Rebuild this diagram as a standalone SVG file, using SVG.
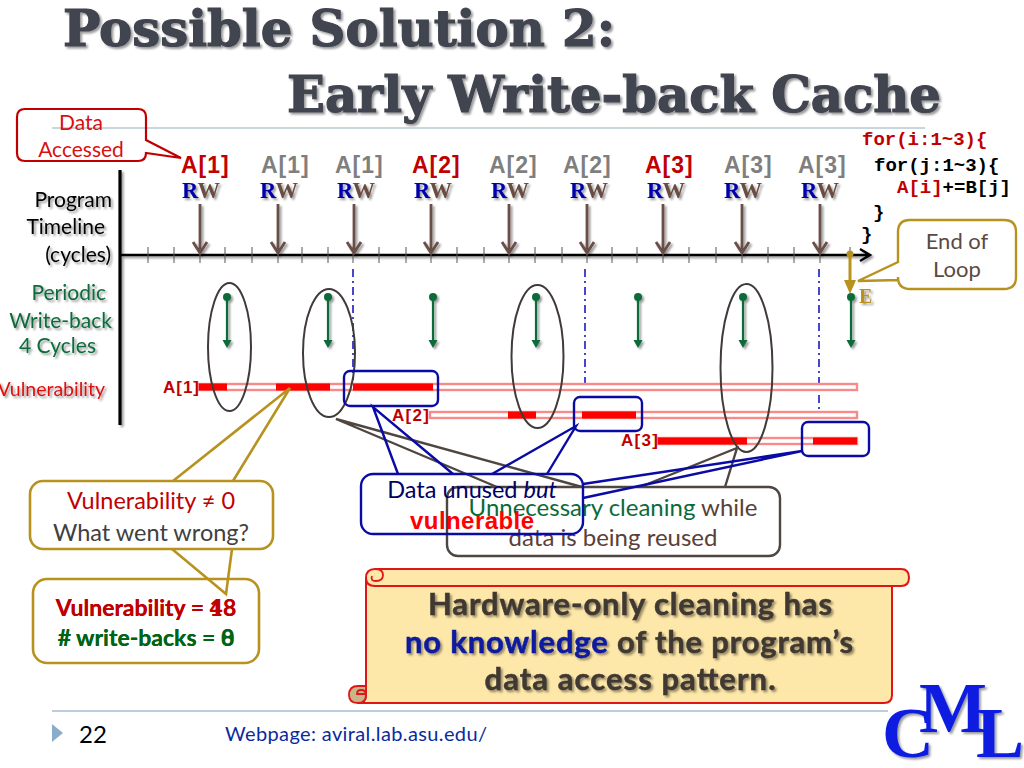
<svg xmlns="http://www.w3.org/2000/svg" width="1024" height="768" viewBox="0 0 1024 768">
<style>
text{font-family:"Lato","Noto Sans",sans-serif}
.title{font-family:"DejaVu Serif",serif;font-weight:700;font-size:50px;fill:#41444f;stroke:#41444f;stroke-width:1.2px}
.hdr{font-family:"Liberation Sans",sans-serif;font-size:23px;font-weight:700;letter-spacing:1px}
.gr{fill:#7f7f7f}.rd{fill:#c00000}
.rw{font-family:"Liberation Serif",serif;font-weight:700;font-size:22.500px;text-anchor:middle;fill:#6b4d42}
.rw tspan{fill:#0000aa}
.lab{font-size:21px;text-anchor:end}
.code{font-family:"Liberation Mono",monospace;font-weight:700;font-size:19px;fill:#000}
.acc{stroke:#6b5048;stroke-width:2.8;fill:none}
.tick{stroke:#555;stroke-width:1}
.ell{fill:none;stroke:#403a38;stroke-width:2}
.dd{stroke:#1a1ac0;stroke-width:1.600;stroke-dasharray:8 4 2 4;fill:none}
.track{fill:#fff;stroke:#f88a8a;stroke-width:2.400}
.bar{fill:#ff0000}
.arr{font-family:"Liberation Sans",sans-serif;font-size:17px;font-weight:700;fill:#c00000}
.blue{fill:none;stroke:#0a0aa5;stroke-width:2.400}
.brown{fill:none;stroke:#4f4640;stroke-width:2.400}
.gold{fill:none;stroke:#b8921e;stroke-width:2.600}
.big{font-size:23.500px;text-anchor:middle}
.cnt{font-size:23px;font-weight:700;text-anchor:middle}
.sc{font-size:31px;font-weight:700;text-anchor:middle;fill:#403830;stroke:#403830;stroke-width:.5px}
.cml{font-family:"Liberation Serif",serif;font-weight:700;font-size:72px;fill:#0a1ee0}
</style>
<defs>
<filter id="sh" x="-20%" y="-20%" width="140%" height="140%"><feDropShadow dx="2" dy="2" stdDeviation="1.200" flood-color="#000" flood-opacity=".4"/></filter>
<path id="acc" d="M0 0V49M-7 38L0 49L7 38"/>
<g id="wbarrow"><circle cx="0" cy="0" r="4" fill="#0a6b3a"/><path d="M0 0V46" stroke="#0a6b3a" stroke-width="2.200"/><path d="M-4.500 43L4.500 43L0 51Z" fill="#0a6b3a"/></g>
</defs>

<g id="title" filter="url(#sh)">
<text class="title" x="63" y="46" textLength="552" lengthAdjust="spacingAndGlyphs">Possible Solution 2:</text>
<text class="title" x="287" y="112" textLength="654" lengthAdjust="spacingAndGlyphs">Early Write-back Cache</text>
</g>
<path id="header-rule" d="M52 128H925" stroke="#b6c9d6" stroke-width="1.600"/>
<path id="footer-rule" d="M52 711H888" stroke="#a5bdd6" stroke-width="1.600"/>

<g id="connectors">
<g id="axes" filter="url(#sh)">
<path d="M120 170V425" stroke="#000" stroke-width="3.200"/>
<path d="M120 255H869M860 249L870 255L860 261" stroke="#000" stroke-width="2.400" fill="none"/>
</g>
<path class="tick" d="M148 247v16M174 247v16M200 247v16M225 247v16M252 247v16M278 247v16M302 247v16M328 247v16M353 247v16M379 247v16M406 247v16M431 247v16M457 247v16M484 247v16M509 247v16M535 247v16M562 247v16M587 247v16M612 247v16M637 247v16M663 247v16M689 247v16M716 247v16M742 247v16M768 247v16M794 247v16M820 247v16M850 247v16"/>
<g id="access-arrows" class="acc" filter="url(#sh)">
<use href="#acc" x="200" y="204"/><use href="#acc" x="278" y="204"/><use href="#acc" x="354" y="204"/><use href="#acc" x="431" y="204"/><use href="#acc" x="509" y="204"/><use href="#acc" x="587" y="204"/><use href="#acc" x="663" y="204"/><use href="#acc" x="742" y="204"/><use href="#acc" x="820" y="204"/>
</g>
<path class="dd" d="M353 269V380M585 269V395M819 269V413"/>
<g id="writeback-arrows" filter="url(#sh)">
<use href="#wbarrow" x="227" y="297"/><use href="#wbarrow" x="328" y="297"/><use href="#wbarrow" x="433" y="297"/><use href="#wbarrow" x="536" y="297"/><use href="#wbarrow" x="638" y="297"/><use href="#wbarrow" x="743" y="297"/><use href="#wbarrow" x="851" y="297"/>
</g>
<g id="end-arrow">
<circle cx="850" cy="254" r="3.500" fill="#b8921e"/>
<path d="M850 254V285" stroke="#b8921e" stroke-width="3"/><path d="M844 280L856 280L850 294Z" fill="#b8921e"/>
</g>
</g>

<g id="tracks">
<rect class="track" x="199" y="384" width="658" height="6"/>
<rect class="track" x="430" y="412" width="427" height="6"/>
<rect class="track" x="658" y="438" width="199" height="6"/>
<rect class="bar" x="199" y="383.500" width="28" height="7"/><rect class="bar" x="276" y="383.500" width="54" height="7"/><rect class="bar" x="353" y="383.500" width="80" height="7"/>
<rect class="bar" x="508" y="411.500" width="28" height="7"/><rect class="bar" x="582" y="411.500" width="54" height="7"/>
<rect class="bar" x="658" y="437.500" width="89" height="7"/><rect class="bar" x="813" y="437.500" width="44" height="7"/>
<text class="arr" x="163" y="393" textLength="36">A[1]</text>
<text class="arr" x="392" y="421" textLength="37">A[2]</text>
<text class="arr" x="621" y="446" textLength="37">A[3]</text>
</g>

<g id="ellipses">
<ellipse class="ell" cx="229.500" cy="347" rx="21.500" ry="64"/>
<ellipse class="ell" cx="329" cy="353" rx="26" ry="64"/>
<ellipse class="ell" cx="537.500" cy="356.500" rx="26" ry="71.500"/>
<ellipse class="ell" cx="746.500" cy="368" rx="26" ry="84"/>
</g>

<g id="access-labels">
<text class="hdr rd" x="181" y="173">A[1]</text><text class="hdr gr" x="261" y="173">A[1]</text><text class="hdr gr" x="335" y="173">A[1]</text>
<text class="hdr rd" x="412" y="173">A[2]</text><text class="hdr gr" x="489" y="173">A[2]</text><text class="hdr gr" x="563" y="173">A[2]</text>
<text class="hdr rd" x="645" y="173">A[3]</text><text class="hdr gr" x="724" y="173">A[3]</text><text class="hdr gr" x="798" y="173">A[3]</text>
</g>
<g id="rw-labels" filter="url(#sh)">
<text class="rw" x="201" y="198"><tspan>R</tspan>W</text><text class="rw" x="279" y="198"><tspan>R</tspan>W</text><text class="rw" x="356" y="198"><tspan>R</tspan>W</text>
<text class="rw" x="433" y="198"><tspan>R</tspan>W</text><text class="rw" x="510" y="198"><tspan>R</tspan>W</text><text class="rw" x="589" y="198"><tspan>R</tspan>W</text>
<text class="rw" x="666" y="198"><tspan>R</tspan>W</text><text class="rw" x="743" y="198"><tspan>R</tspan>W</text><text class="rw" x="820" y="198"><tspan>R</tspan>W</text>
</g>
<g id="row-labels" filter="url(#sh)">
<text class="lab" x="112" y="207">Program</text>
<text class="lab" x="105" y="234">Timeline</text>
<text class="lab" x="111" y="262">(cycles)</text>
<text class="lab" x="106" y="300" fill="#0a6b3a">Periodic</text>
<text class="lab" x="112" y="328" fill="#0a6b3a">Write-back</text>
<text class="lab" x="96" y="353" fill="#0a6b3a">4 Cycles</text>
<text class="lab" x="105" y="396" fill="#e01010" style="font-size:19.500px">Vulnerability</text>
</g>

<g id="code">
<text class="code" x="862" y="145" style="fill:#c00000">for(i:1~3){</text>
<text class="code" x="874" y="171">for(j:1~3){</text>
<text class="code" x="897" y="193"><tspan style="fill:#c00000">A[i]</tspan>+=B[j]</text>
<text class="code" x="873" y="218">}</text>
<text class="code" x="861" y="240">}</text>
</g>

<g id="data-accessed">
<path d="M25 109H138Q146 109 146 117V140L181 158L146 153Q146 161 138 161H25Q17 161 17 153V117Q17 109 25 109Z" fill="none" stroke="#c00000" stroke-width="2.200"/>
<text class="big" x="81" y="130" fill="#d81010" style="font-size:21px">Data</text>
<text class="big" x="81" y="157" fill="#d81010" style="font-size:21px">Accessed</text>
</g>

<g id="end-of-loop">
<path d="M910 220H1004Q1016 220 1016 232V277Q1016 289 1004 289H910Q898 289 898 277V280L858 281L898 262V232Q898 220 910 220Z" fill="#fff" stroke="#b8921e" stroke-width="2.400"/>
<text class="big" x="957" y="249" fill="#5a4a42" style="font-size:22px">End of</text>
<text class="big" x="957" y="277" fill="#5a4a42" style="font-size:22px">Loop</text>
<text x="859" y="303" font-size="20" font-weight="700" fill="#b8921e" style="font-family:'Liberation Serif',serif" filter="url(#sh)">E</text>
</g>

<g id="vuln-why">
<path class="gold" d="M173 481L290 388L233 481M172 549L226 594L232 549"/>
<rect class="gold" x="30" y="481" width="243" height="68" rx="13"/>
<text class="big" x="151" y="509" fill="#c00000">Vulnerability ≠ 0</text>
<text class="big" x="151" y="541" fill="#404040">What went wrong?</text>
</g>
<g id="vuln-count">
<rect class="gold" x="33" y="579" width="226" height="84" rx="14"/>
<text class="cnt" x="146" y="616" fill="#c00000">Vulnerability = 48</text>
<text class="cnt" x="146" y="616" fill="#c00000">Vulnerability = 18</text>
<text class="cnt" x="146" y="646" fill="#006414"># write-backs = 8</text>
<text class="cnt" x="146" y="646" fill="#006414"># write-backs = 0</text>
</g>

<g id="unnecessary">
<path class="brown" d="M497 487L336 419L582 487M640 487L737 448L725 487"/>
<rect class="brown" x="447" y="487" width="333" height="69" rx="11"/>
<text class="big" x="613" y="516" fill="#5a4038" style="font-size:24px"><tspan fill="#0a6b3a">Unnecessary cleaning</tspan> while</text>
<text class="big" x="613" y="546" fill="#5a4038" style="font-size:24px">data is being reused</text>
</g>
<g id="data-unused">
<path class="blue" d="M398 474L373 407L453 474M492 474L576 426L547 474M583 484L802 451L583 498"/>
<rect class="blue" x="344" y="371" width="94" height="35" rx="6"/>
<rect class="blue" x="574" y="397" width="68" height="34" rx="6"/>
<rect class="blue" x="802" y="422" width="67" height="34" rx="6"/>
<rect class="blue" x="361" y="474" width="222" height="60" rx="12"/>
<text class="big" x="472" y="498" fill="#000066">Data unused <tspan font-style="italic">but</tspan></text>
<text x="410" y="529" fill="#ff0000" font-size="24" textLength="124" style="font-family:'Liberation Sans',sans-serif;font-weight:700">vulnerable</text>
</g>

<g id="scroll">
<path d="M366 578V695Q366 703 358 703H884Q892 703 892 695V586H374" fill="#fde7a9" stroke="#e01515" stroke-width="2"/>
<path d="M375 569H901Q909 569 909 577.500Q909 586 901 586H375Q366 586 366 578Q366 569 375 569Z" fill="#fde7a9" stroke="#e01515" stroke-width="2"/>
<path d="M375 569Q383 569 383 575Q383 581 376 581Q370 581 372 576" fill="none" stroke="#e01515" stroke-width="1.800"/>
<path d="M366 686H358Q349 686 349 695Q349 703 358 703Q366 703 366 695Q366 690 361 690Q357 690 357 694H366Z" fill="#c9b58a" stroke="#e01515" stroke-width="1.800"/>
<g filter="url(#sh)">
<text class="sc" x="630" y="615" textLength="404">Hardware-only cleaning has</text>
<text class="sc" x="629" y="653" textLength="448"><tspan fill="#0a1a9e" stroke="#0a1a9e">no knowledge</tspan> of the program’s</text>
<text class="sc" x="630" y="690" textLength="291">data access pattern.</text>
</g>
</g>

<g id="footer">
<path d="M52 724L63 733L52 742Z" fill="#8caccb"/>
<text x="79" y="743" font-size="24" fill="#000">22</text>
<text x="225" y="741" font-size="20" fill="#0a2a9e" textLength="262">Webpage: aviral.lab.asu.edu/</text>
</g>
<g id="cml-logo" filter="url(#sh)">
<text class="cml" x="882" y="757">C</text>
<text class="cml" x="919" y="732">M</text>
<text class="cml" x="976" y="757">L</text>
</g>
</svg>
